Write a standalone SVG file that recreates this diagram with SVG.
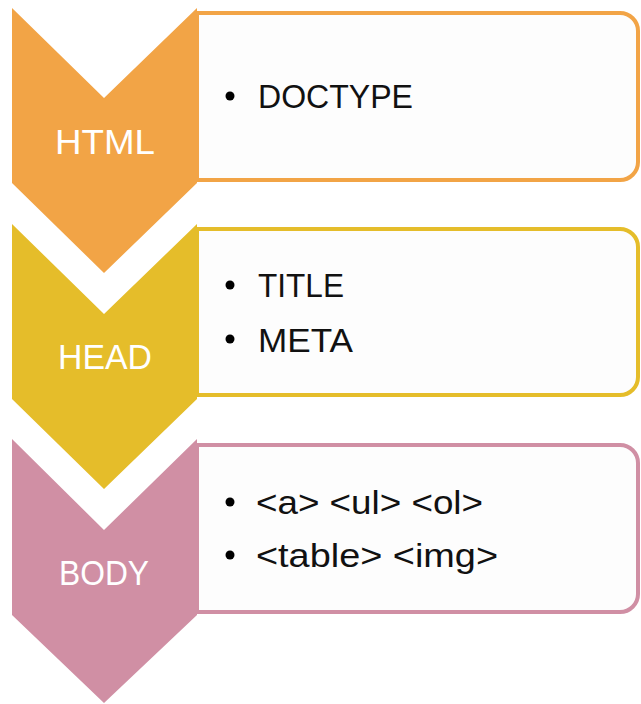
<svg xmlns="http://www.w3.org/2000/svg" width="641" height="704" viewBox="0 0 641 704">
<style>
.box{fill:#FDFDFD;stroke-width:4}
.lbl{font-family:"Liberation Sans",Arial,sans-serif;font-size:35px;fill:#FFFFFF;text-anchor:middle}
.item{font-family:"Liberation Sans",Arial,sans-serif;font-size:34px;fill:#111111}
.dot{fill:#000000}
</style>
<rect width="641" height="704" fill="#FFFFFF"/>
<g id="node-html">
<path class="box" stroke="#F2A446" d="M197,13 H620 A18,18 0 0 1 638,31 V162 A18,18 0 0 1 620,180 H197 Z"/>
<polygon fill="#F2A446" points="12,8 104,98 197,8 197,183 104,273 12,183"/>
<text class="lbl" x="105" y="154" textLength="100" lengthAdjust="spacingAndGlyphs">HTML</text>
<circle class="dot" cx="230" cy="96" r="4.5"/>
<text class="item" x="258" y="108" textLength="155" lengthAdjust="spacingAndGlyphs">DOCTYPE</text>
</g>
<g id="node-head">
<path class="box" stroke="#E5BD2A" d="M197,229 H620 A18,18 0 0 1 638,247 V377 A18,18 0 0 1 620,395 H197 Z"/>
<polygon fill="#E5BD2A" points="12,224 104,314 197,224 197,399 104,489 12,399"/>
<text class="lbl" x="105" y="369" textLength="94" lengthAdjust="spacingAndGlyphs">HEAD</text>
<circle class="dot" cx="230" cy="285" r="4.5"/>
<text class="item" x="258" y="297" textLength="86" lengthAdjust="spacingAndGlyphs">TITLE</text>
<circle class="dot" cx="230" cy="339" r="4.5"/>
<text class="item" x="258" y="352" textLength="95" lengthAdjust="spacingAndGlyphs">META</text>
</g>
<g id="node-body">
<path class="box" stroke="#D08FA4" d="M197,445 H620 A18,18 0 0 1 638,463 V594 A18,18 0 0 1 620,612 H197 Z"/>
<polygon fill="#D08FA4" points="12,439 104,530 197,439 197,615 104,703 12,615"/>
<text class="lbl" x="104" y="585" textLength="90" lengthAdjust="spacingAndGlyphs">BODY</text>
<circle class="dot" cx="230" cy="502" r="4.5"/>
<text class="item" x="256" y="514" textLength="227" lengthAdjust="spacingAndGlyphs">&lt;a&gt; &lt;ul&gt; &lt;ol&gt;</text>
<circle class="dot" cx="230" cy="555" r="4.5"/>
<text class="item" x="256" y="567" textLength="242" lengthAdjust="spacingAndGlyphs">&lt;table&gt; &lt;img&gt;</text>
</g>
<g id="connectors"></g>
</svg>
